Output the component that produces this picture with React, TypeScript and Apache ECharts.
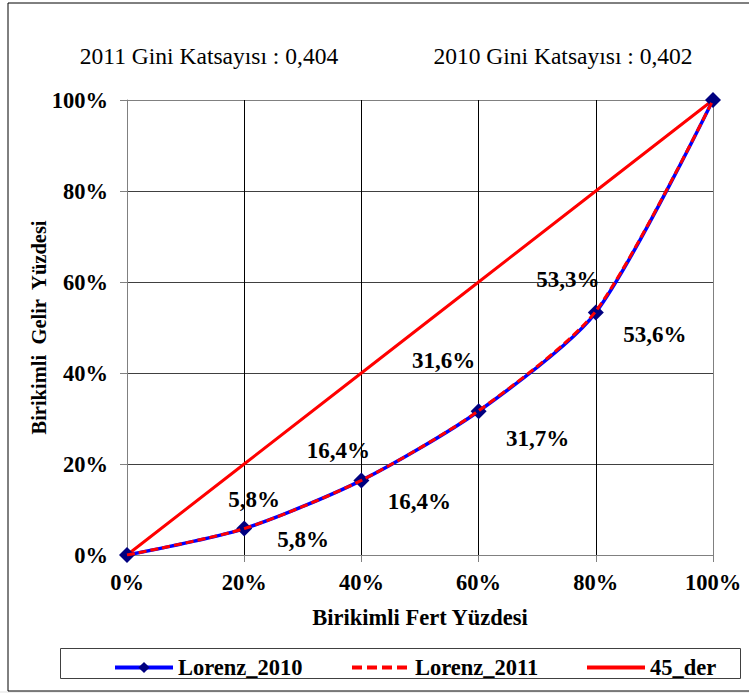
import React, { useEffect, useRef } from "react";
import * as echarts from "echarts";

const xCategories = [0, 20, 40, 60, 80, 100];
const lorenz2010 = [0, 5.8, 16.4, 31.6, 53.3, 100];
const lorenz2011 = [0, 5.8, 16.4, 31.7, 53.6, 100];
const line45 = [0, 20, 40, 60, 80, 100];
const labelOffsets2010 = [null, [10, -29], [-23, -30], [-35, -51], [-28, -33], null];
const labelOffsets2011 = [null, [59, 11], [58, 21], [59, 28], [59, 23], null];
const giniTexts = ["2011 Gini Katsayısı : 0,404", "2010 Gini Katsayısı : 0,402"];

const SERIF = "Liberation Serif";
const FS = 22.5;

function pts(values: number[], offsets: any[]) {
  return values.map((v, i) => {
    const o = offsets[i];
    const item: any = { value: [xCategories[i], v] };
    if (o) {
      item.label = {
        show: true,
        offset: o,
        position: "inside",
        formatter: v.toFixed(1).replace(".", ",") + "%",
        fontFamily: SERIF,
        fontWeight: "bold",
        fontSize: 23,
        color: "#000",
      };
    }
    return item;
  });
}

export default function App() {
  const ref = useRef<HTMLDivElement>(null);
  useEffect(() => {
    document.body.style.margin = "0";
    const chart = echarts.init(ref.current!, null, { renderer: "svg" });
    const axisLabel = {
      fontFamily: SERIF,
      fontWeight: "bold",
      fontSize: FS,
      color: "#000",
      formatter: (v: number) => v + "%",
    };
    const legendText = { fontFamily: SERIF, fontWeight: "bold", fontSize: FS, color: "#000" };
    chart.setOption({
      animation: false,
      backgroundColor: "#fff",
      textStyle: { fontFamily: SERIF },
      grid: { left: 127, right: 36, top: 100, bottom: 138 },
      xAxis: {
        type: "value",
        min: 0,
        max: 100,
        interval: 20,
        axisLine: { show: true, lineStyle: { color: "#808080", width: 1 } },
        axisTick: { show: true, inside: false, length: 7, lineStyle: { color: "#808080" } },
        axisLabel: { ...axisLabel, margin: 16 },
        splitLine: {
          show: true,
          lineStyle: { color: ["#808080", "#000", "#000", "#000", "#000", "#808080"], width: 1 },
        },
        name: "Birikimli Fert Yüzdesi",
        nameLocation: "middle",
        nameGap: 51,
        nameMoveOverlap: false,
        nameTextStyle: { fontFamily: SERIF, fontWeight: "bold", fontSize: FS, color: "#000" },
      },
      yAxis: {
        type: "value",
        min: 0,
        max: 100,
        interval: 20,
        axisLine: { show: true, lineStyle: { color: "#808080", width: 1 } },
        axisTick: { show: true, inside: false, length: 7, lineStyle: { color: "#808080" } },
        axisLabel: { ...axisLabel, margin: 19 },
        splitLine: {
          show: true,
          lineStyle: { color: ["#808080", "#404040", "#404040", "#404040", "#404040", "#808080"], width: 1 },
        },
        name: "Birikimli  Gelir  Yüzdesi",
        nameLocation: "middle",
        nameGap: 78,
        nameMoveOverlap: false,
        nameTextStyle: { fontFamily: SERIF, fontWeight: "bold", fontSize: 20.5, color: "#000" },
      },
      legend: [
        {
          data: ["Lorenz_2010"],
          left: 108,
          top: 651,
          itemWidth: 58,
          itemHeight: 14,
          lineStyle: { width: 4 },
          textStyle: legendText,
        },
        {
          data: ["Lorenz_2011"],
          left: 345,
          top: 651,
          itemWidth: 58,
          itemHeight: 14,
          lineStyle: { width: 4, type: [10, 5] },
          textStyle: legendText,
        },
        {
          data: [{ name: "45_der", icon: "path://M0,0H60V4H0Z" }],
          left: 582,
          top: 651,
          itemWidth: 58,
          itemHeight: 14,
          textStyle: legendText,
        },
      ],
      graphic: [
        {
          type: "rect",
          shape: { x: 0, y: 691, width: 749, height: 2 },
          style: { fill: "#f0f0f0" },
          silent: true,
          z: -2,
        },
        {
          type: "rect",
          shape: { x: 8, y: 3, width: 760, height: 688 },
          style: { fill: "none", stroke: "#000", lineWidth: 1 },
          silent: true,
          z: -1,
        },
        {
          type: "rect",
          shape: { x: 60.5, y: 648.5, width: 680, height: 30 },
          style: { fill: "none", stroke: "#404040", lineWidth: 1 },
          silent: true,
        },
        {
          type: "text",
          x: 209,
          y: 56,
          style: {
            text: giniTexts[0],
            fontFamily: SERIF,
            fontWeight: "normal",
            fontSize: 23.5,
            fill: "#000",
            align: "center",
            verticalAlign: "middle",
          },
        },
        {
          type: "text",
          x: 563,
          y: 56,
          style: {
            text: giniTexts[1],
            fontFamily: SERIF,
            fontWeight: "normal",
            fontSize: 23.5,
            fill: "#000",
            align: "center",
            verticalAlign: "middle",
          },
        },
      ],
      series: [
        {
          name: "45_der",
          type: "line",
          data: xCategories.map((x, i) => [x, line45[i]]),
          showSymbol: false,
          symbol: "none",
          lineStyle: { color: "#FF0000", width: 3 },
          itemStyle: { color: "#FF0000" },
          z: 2,
        },
        {
          name: "Lorenz_2010",
          type: "line",
          data: pts(lorenz2010, labelOffsets2010),
          smooth: 0.25,
          symbol: "diamond",
          symbolSize: 16,
          lineStyle: { color: "#0000FF", width: 3.5 },
          itemStyle: { color: "#000080" },
          z: 3,
        },
        {
          name: "Lorenz_2011",
          type: "line",
          data: pts(lorenz2011, labelOffsets2011),
          smooth: 0.25,
          symbol: "circle",
          symbolSize: 1,
          showSymbol: true,
          lineStyle: { color: "#FF0000", width: 3, type: [8, 4] },
          itemStyle: { color: "transparent", borderWidth: 0 },
          z: 4,
        },
      ],
    });
    return () => chart.dispose();
  }, []);
  return <div ref={ref} style={{ width: 749, height: 693 }} />;
}
